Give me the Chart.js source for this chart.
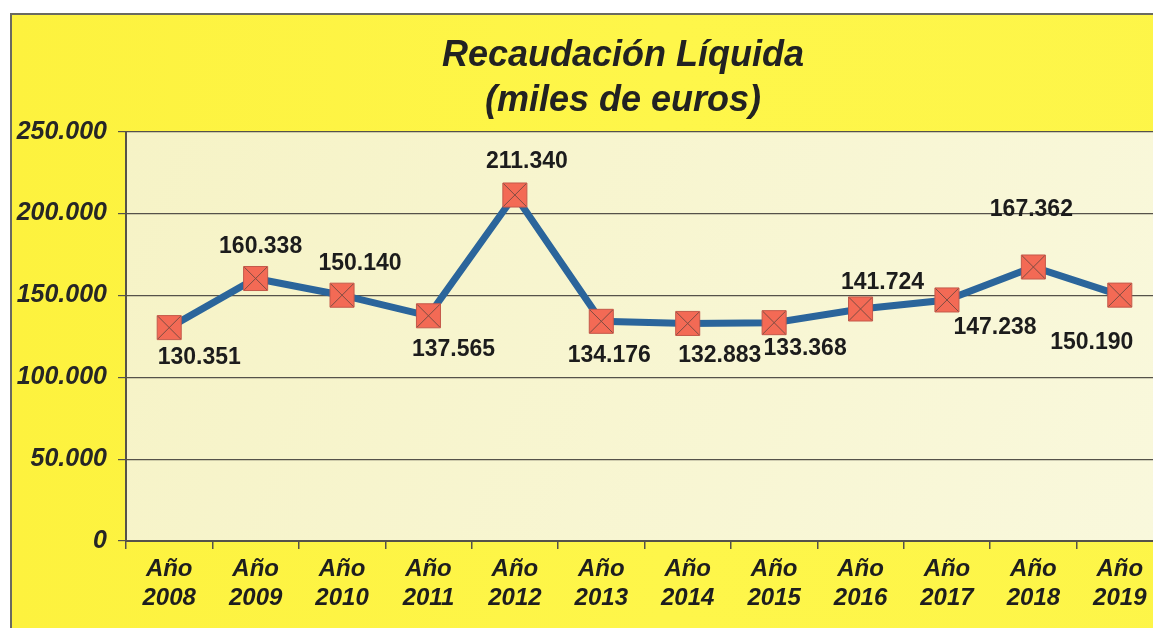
<!DOCTYPE html>
<html>
<head>
<meta charset="utf-8">
<script src="https://cdn.jsdelivr.net/npm/chart.js@4/dist/chart.umd.min.js"></script>
<style>
  html, body { margin: 0; padding: 0; background: #fff; overflow: hidden; }
  #frame {
    position: absolute; left: 10px; top: 13px;
    width: 1300px; height: 700px;
    border: 2px solid #6a6a60;
    background: linear-gradient(90deg, #fdf23e 0%, #fef64a 50%, #fdf548 100%);
    overflow: hidden;
  }
  #chart { display: block; }
</style>
</head>
<body>
<div id="frame"><canvas id="chart" width="1151" height="613"></canvas></div>
<script>
const years = ['2008', '2009', '2010', '2011', '2012', '2013', '2014', '2015', '2016', '2017', '2018', '2019'];
const recaudacion = [130351, 160338, 150140, 137565, 211340, 134176, 132883, 133368, 141724, 147238, 167362, 150190];
const yTicks = [0, 50000, 100000, 150000, 200000, 250000];

const labels = years.map(y => ['Año', y]);
const fmt = n => n.toString().replace(/\B(?=(\d{3})+(?!\d))/g, '.');
const FONT = "'Liberation Sans', Arial, sans-serif";

// light cream plot area
const plotBg = {
  id: 'plotBg',
  beforeDraw(chart) {
    const {ctx, chartArea: a} = chart;
    const g = ctx.createLinearGradient(a.left, a.top, a.right, a.bottom);
    g.addColorStop(0, '#f6f3c6');
    g.addColorStop(1, '#f9f8dc');
    ctx.save();
    ctx.fillStyle = g;
    ctx.fillRect(a.left, a.top, a.right - a.left, a.bottom - a.top);
    ctx.restore();
  }
};

// the title is centred a bit left of the plot, like the original sheet
const titlePlace = {
  id: 'titlePlace',
  afterLayout(chart) {
    const t = chart.titleBlock;
    if (!t) return;
    t.left = chart.chartArea.left - 43;
    t.right = chart.chartArea.right;
  }
};

// value labels next to each point
const valueLabels = {
  id: 'valueLabels',
  afterDatasetsDraw(chart, args, opts) {
    const {ctx} = chart;
    const meta = chart.getDatasetMeta(0);
    ctx.save();
    ctx.font = 'bold 23px ' + FONT;
    ctx.fillStyle = '#1c1c1c';
    ctx.textAlign = 'center';
    ctx.textBaseline = 'middle';
    meta.data.forEach((pt, i) => {
      const off = opts.offsets[i] || [0, -30];
      ctx.fillText(fmt(chart.data.datasets[0].data[i]), pt.x + off[0], pt.y + off[1]);
    });
    ctx.restore();
  }
};

new Chart(document.getElementById('chart'), {
  type: 'line',
  data: {
    labels: labels,
    datasets: [{
      data: recaudacion,
      order: 2,
      borderColor: '#2b659b',
      borderWidth: 7,
      tension: 0,
      pointStyle: 'rect',
      pointRadius: 17,
      pointBackgroundColor: '#f36a55',
      pointBorderColor: '#c4594a',
      pointBorderWidth: 1
    }, {
      data: recaudacion,
      order: 1,
      showLine: false,
      pointStyle: 'crossRot',
      pointRadius: 16,
      pointBorderColor: '#7e4c42',
      pointBorderWidth: 1
    }]
  },
  options: {
    responsive: false,
    animation: false,
    events: [],
    layout: { autoPadding: false, padding: { left: 0, right: 0, top: 8, bottom: 0 } },
    plugins: {
      legend: { display: false },
      tooltip: { enabled: false },
      title: {
        display: true,
        text: ['Recaudación Líquida', '(miles de euros)'],
        color: '#222',
        font: { family: FONT, size: 36, weight: 'bold', style: 'italic', lineHeight: 1.26 },
        padding: { top: 10, bottom: 8 }
      },
      valueLabels: {
        offsets: [[30, 30], [5, -32], [18, -32], [25, 34], [12, -33], [8, 34],
                  [32, 32], [31, 26], [22, -26], [48, 28], [-2, -57], [-28, 48]]
      }
    },
    scales: {
      x: {
        offset: true,
        grid: { offset: true, drawOnChartArea: false, drawTicks: true, tickLength: 8, color: '#55524a', lineWidth: 1.5 },
        border: { display: true, color: '#55524a', width: 2 },
        ticks: {
          color: '#1e1e1e',
          padding: 6,
          maxRotation: 0,
          autoSkip: false,
          font: { family: FONT, size: 24, weight: 'bold', style: 'italic', lineHeight: 1.2 }
        },
        afterFit(scale) {
          scale.height = 87;
          scale.paddingLeft = 0;
          scale.paddingRight = 0;
        }
      },
      y: {
        min: 0,
        max: 250000,
        afterBuildTicks(scale) { scale.ticks = yTicks.map(v => ({ value: v })); },
        grid: { color: '#55524a', lineWidth: 1.2, drawTicks: true, tickLength: 8 },
        border: { display: true, color: '#55524a', width: 2 },
        ticks: {
          color: '#262626',
          padding: 11,
          callback: v => fmt(v),
          font: { family: FONT, size: 25, weight: 'bold', style: 'italic' }
        },
        afterFit(scale) { scale.width = 114; }
      }
    }
  },
  plugins: [plotBg, titlePlace, valueLabels]
});
</script>
</body>
</html>
